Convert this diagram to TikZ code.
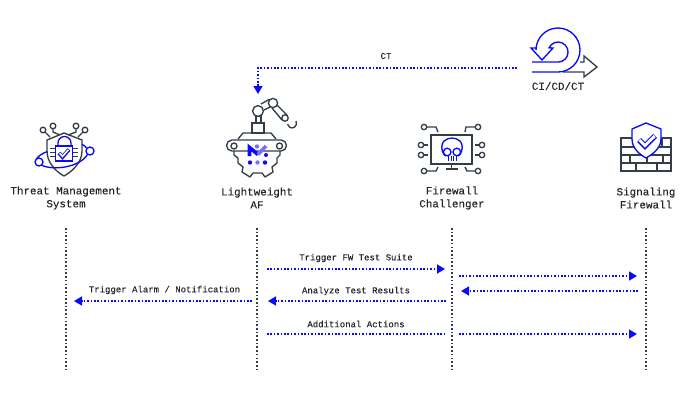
\documentclass[tikz,border=0pt]{standalone}
\usepackage{fontspec}
\setmainfont[FakeBold=0.15]{Liberation Mono}
\usetikzlibrary{positioning,arrows.meta,calc}
\definecolor{flowblue}{RGB}{10,10,250}
\definecolor{icongray}{RGB}{52,62,72}
\definecolor{lightblue}{RGB}{120,110,255}
\tikzset{
  lifeline/.style={icongray,line width=1.6pt,dash pattern=on 1.6pt off 2.1pt},
  flow/.style={flowblue,line width=1.6pt,dash pattern=on 1.6pt off 1.8pt},
  flowtip/.style={flow,-{Triangle[length=8pt,width=9pt]}},
  iconline/.style={icongray,line width=1.35pt},
  blueline/.style={flowblue,line width=1.35pt},
  actor/.style={font=\fontsize{10.9}{13}\selectfont,align=center,text=black!85,inner sep=0pt},
  msg/.style={font=\fontsize{9}{11}\selectfont,text=black!85,inner sep=0pt},
}
\begin{document}
\begin{tikzpicture}[x=1pt,y=-1pt]
\useasboundingbox (0,0) rectangle (690,400);

% Actor labels
\node[actor] (threatlabel) at (66,198) {Threat Management\\System};
\node[actor] (aflabel) at (257,198) {Lightweight\\AF};
\node[actor] (challengerlabel) at (452,198) {Firewall\\Challenger};
\node[actor] (signalinglabel) at (646,198) {Signaling\\Firewall};

% Lifelines
\foreach \name/\x in {threat/66,af/257,challenger/452,signaling/646} {
  \coordinate (\name top) at (\x,228);
  \coordinate (\name bottom) at (\x,370);
  \draw[lifeline] (\name top) -- (\name bottom);
}

% Message labels
\node[msg] (triggerlabel) at (356,258) {Trigger FW Test Suite};
\node[msg] (analyzelabel) at (356,291) {Analyze Test Results};
\node[msg] (additionallabel) at (356,324) {Additional Actions};
\node[msg] (alarmlabel) at (164.5,290) {Trigger Alarm / Notification};
\node[msg] (ctlabel) at (386,56) {CT};
\node[actor] (cicdlabel) at (558,86) {CI/CD/CT};

% Message arrows
\foreach \name/\xa/\ya/\xb/\yb in {a/267/269/445/269, b/459/276/637/276, c/638/291/461/291,
    d/446/301/268/301, e/252/301/74/301, f/459/334/637/334} {
  \coordinate (\name start) at (\xa,\ya);
  \coordinate (\name end) at (\xb,\yb);
  \draw[flowtip] (\name start) -- (\name end);
}
\coordinate (g start) at (267,334);
\coordinate (g end) at (445,334);
\draw[flow] (g start) -- (g end);

% CT arrow
\coordinate (ct start) at (517,68);
\coordinate (ct bend) at (258,68);
\coordinate (ct end) at (258,94);
\draw[flowtip] (ct start) -- (ct bend) -- (ct end);

% CI/CD/CT icon
\draw[iconline,line join=miter] (580,62) -- (584,62) -- (584,56) -- (597,67) -- (584,77) -- (584,72) -- (563,72);
\draw[blueline,line join=miter] (532,72) -- (558,72) arc[start angle=90,end angle=-180,radius=22]
  -- (536,48) -- (531,48) -- (542,60) -- (553,48) -- (549,47.8)
  arc[start angle=-155,end angle=90,radius=10] -- (532,62);

% Threat Management System icon
\foreach \cx/\cy in {43/130,53/126,76/126,85/130} {
  \draw[iconline] (\cx,\cy) circle (2.8);
}
\draw[iconline] (45,132) -- (50,137);
\draw[iconline] (53,129) -- (53,132) -- (60,135);
\draw[iconline] (83,132) -- (78,137);
\draw[iconline] (76,129) -- (76,132) -- (68,135);
\draw[iconline,line join=round] (47,140) -- (64,133) -- (82,140) -- (82,151)
  .. controls (82,162) and (73,171) .. (64,176) .. controls (55,171) and (47,162) .. (47,151) -- cycle;
\foreach \ly in {148,152,156} {
  \draw[iconline,line width=.9pt] (50,\ly) -- (55,\ly);
  \draw[iconline,line width=.9pt] (72,\ly) -- (78,\ly);
}
\draw[blueline,fill=white] (58,146) -- (58,143) arc[start angle=180,end angle=360,radius=6.5] -- (71,146) -- cycle;
\draw[blueline,fill=white] (55.5,146) rectangle (72.5,161);
\draw[blueline,line width=3.8pt,line join=miter] (59,153) -- (62.5,157) -- (69,149.5);
\draw[white,line width=1.6pt,line join=miter] (59.6,153.2) -- (62.5,156.4) -- (68.4,149.8);
\draw[blueline] (39,162) circle (4);
\draw[blueline] (90,151) circle (4);
\draw[blueline] (41.5,165.2) .. controls (54,171) and (80,167) .. (87.5,154.5);
\draw[blueline] (36.5,158.8) .. controls (38,156) and (43,153) .. (47.5,151.5);
\draw[blueline] (82,144.5) .. controls (84,145) and (85,146) .. (86.5,148);

% Lightweight AF icon
\draw[iconline] (256,123) rectangle (261,116);
\draw[iconline] (252,123) rectangle (264,133);
\draw[iconline,line join=round] (238,139) -- (243,133) -- (271,133) -- (276,139);
\draw[iconline] (232,140) -- (281,140) arc[start angle=-90,end angle=90,radius=5.5] -- (232,151)
  arc[start angle=90,end angle=270,radius=5.5] -- cycle;
\draw[iconline] (234,146) circle (3);
\draw[iconline] (279.5,146) circle (3);
\draw[iconline,line join=round] (234,151) -- (234,155) -- (238,158) -- (238,163) -- (243,167) -- (242,172)
  -- (250,177) -- (253,173) -- (262,173) -- (265,177) -- (273,172) -- (272,167) -- (277,163) -- (277,158)
  -- (280,155) -- (280,151);
\draw[iconline] (261,104) -- (269,99.5);
\draw[iconline] (264,110) -- (271,106.5);
\draw[iconline] (277,105) -- (287,115);
\draw[iconline] (272,108) -- (282,120);
\draw[iconline,fill=white] (258,111) circle (5.4);
\draw[iconline,fill=white] (273,103) circle (4.6);
\draw[iconline,fill=white] (285,118) circle (3.2);
\draw[iconline] (296,121) arc[start angle=-30,end angle=170,radius=4.6];
\draw[flowblue,line width=3.6pt,line join=miter] (249.5,156) -- (249.5,147.5) -- (258,154.5);
\draw[lightblue,line width=3.6pt] (258,154.5) -- (266,146);
\fill[flowblue] (266,155) circle (2);
\fill[lightblue] (257,146.5) circle (2.2);
\fill[flowblue] (250,162.5) circle (2.2);
\fill[lightblue] (257.5,162.5) circle (2.2);
\fill[flowblue] (265,162.5) circle (2.2);

% Firewall Challenger icon
\draw[iconline] (431,135) rectangle (472,164);
\draw[iconline] (451.5,164) -- (451.5,169);
\draw[iconline] (446,169) -- (458,169);
\foreach \cx/\cy in {424/127,478/127,421/145,421/155,482/145,482/155,424/171,478/171} {
  \draw[iconline] (\cx,\cy) circle (2.7);
}
\draw[iconline] (427,127) -- (436,127) -- (438,132);
\draw[iconline] (475,127) -- (466,127) -- (465,132);
\draw[iconline] (424,145) -- (428,145);
\draw[iconline] (424,155) -- (428,155);
\draw[iconline] (479,145) -- (475,145);
\draw[iconline] (479,155) -- (475,155);
\draw[iconline] (427,171) -- (436,171) -- (438,167);
\draw[iconline] (475,171) -- (467,171) -- (465,167);
\draw[blueline] (446,156) -- (444,154.5) .. controls (441,150) and (441,144) .. (444,141)
  .. controls (449,137) and (455,137) .. (460,141) .. controls (463,144) and (463,150) .. (460,154.5) -- (458,156);
\draw[blueline] (447.2,152) circle (3.8);
\draw[blueline] (456.8,152) circle (3.8);
\foreach \tx in {448.5,451,453.5,456} {
  \draw[blueline,line width=1pt] (\tx,156) -- (\tx,161);
}

% Signaling Firewall icon
\draw[iconline] (621,138) rectangle (671,171);
\foreach \ry in {147,155,163} {
  \draw[iconline] (621,\ry) -- (671,\ry);
}
\draw[iconline] (662,138) -- (662,147);
\foreach \wx in {630,647,663} {
  \draw[iconline] (\wx,155) -- (\wx,163);
}
\foreach \wx in {636,657} {
  \draw[iconline] (\wx,163) -- (\wx,171);
}
\draw[blueline,fill=white,line join=round] (646,123) -- (661,129) -- (661,139)
  .. controls (661,148) and (653,154) .. (646,158) .. controls (639,154) and (632,148) .. (632,139) -- (632,129) -- cycle;
\draw[blueline,line width=5.4pt,line join=miter] (639,140) -- (645,146) -- (655,136);
\draw[white,line width=2.9pt,line join=miter] (639.4,140.1) -- (645,145.6) -- (654.6,136.1);
\end{tikzpicture}
\end{document}
